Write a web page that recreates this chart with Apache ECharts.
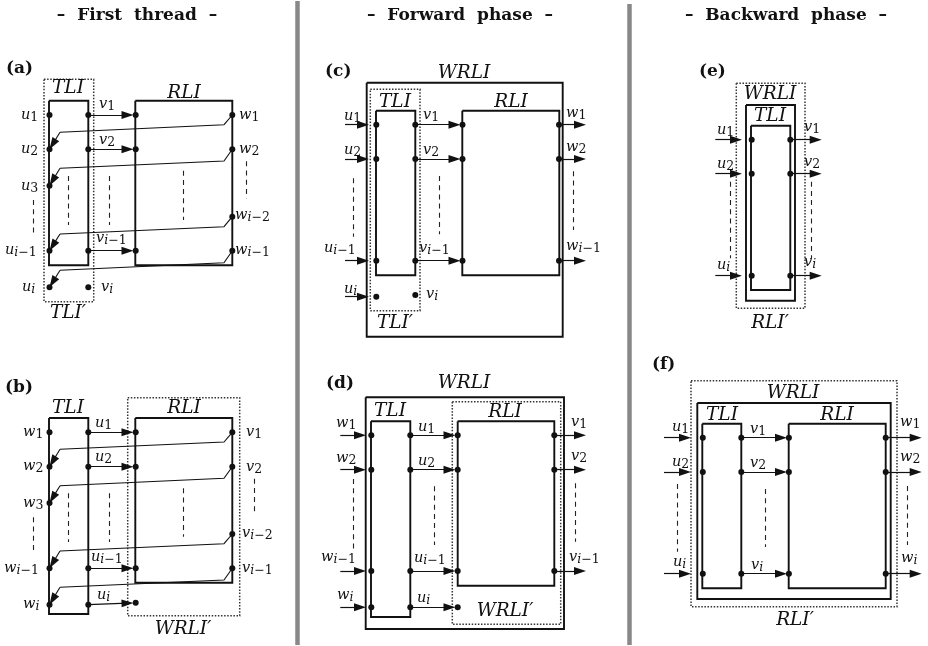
<!DOCTYPE html>
<html><head><meta charset="utf-8">
<style>html,body{margin:0;padding:0;background:#fff}#c{width:928px;height:646px}</style>
<script src="https://cdn.jsdelivr.net/npm/echarts@6/dist/echarts.min.js"></script>
</head><body><div id="c"></div>
<script>
// Diagram units: the axes span 0..928 and 646..0
const INK = '#111';
const titles = [[137,15.5,'–  First  thread  –'],[460,15.5,'–  Forward  phase  –'],[786,15.5,'–  Backward  phase  –']];
const panelTags = [[6,69,'(a)'],[5,388,'(b)'],[325,72,'(c)'],[326,384,'(d)'],[699,72,'(e)'],[652,365,'(f)']];
const dividers = [[297.7,1,645],[629.5,4,645]];
const solidBoxes = [
 [49,100.7,88.3,265.3],[135.3,100.7,232.3,265.3],
 [49,418,88.3,614],[135.3,418,232.3,582.7],
 [366.7,82.7,562.7,336.7],[376,110.7,415.3,275.3],[462.3,110.7,559.3,275.3],
 [365.7,397.3,564,629],[371,421.3,410.3,617],[457.7,421.3,554.3,585.7],
 [746,105,795,300.7],[751,125.7,790.3,290],
 [697.3,403,890.7,599],[702.3,423.7,741.3,588.3],[788.7,423.7,885.7,588.3]];
const dottedBoxes = [
 [44,79.3,93.7,301.7],[127.7,397.7,239.7,615.7],[370.3,89.3,420,310.7],
 [452.3,401.7,560.7,624.3],[736.3,83.3,805,308.3],[691,380.7,897,606.7]];
const dashStrokes = [
 [33.7,200,236.7],[68.7,176,225],[109.7,176,225],[183.7,170.7,220],[246.7,161.3,198.3],
 [33.7,517.3,553.3],[68.7,493.3,542],[109.7,493.3,542],[183.7,488.3,536.7],[254,478.7,515],
 [353.3,178.3,236.7],[439,176,234.3],[573.7,171.3,230],
 [353.3,479,549],[434.3,486.3,545],[575.7,483.3,541.7],
 [730.7,181.7,258.3],[811.7,181.7,258.3],
 [677.3,484,551.7],[765.3,489,547],[907.3,486,545]];
const feedbackWires = [
 [[232.3,115],[224,124.7],[60,132.3],[49.5,149.3]],
 [[232.3,149.3],[224,161],[60,168.3],[49.5,185.7]],
 [[232.3,216.7],[224,226.7],[60,234],[49.5,250.7]],
 [[232.3,250.7],[224,262.7],[60,270.3],[49.5,287.3]],
 [[232.3,432.3],[224,442],[60,449.3],[49.5,466.7]],
 [[232.3,466.7],[224,478.3],[60,485.7],[49.5,503]],
 [[232.3,534],[224,543.7],[60,551],[49.5,568.3]],
 [[232.3,568.3],[224,580],[60,587.3],[49.5,604.7]]];
const arrows = [
 [88.3,115,133.5,115],[88.3,149.3,133.5,149.3],[88.3,250.7,133.5,250.7],
 [88.3,432.3,133.5,432.3],[88.3,466.7,133.5,466.7],[88.3,568.3,133.5,568.3],[88.3,604.7,133.5,602.9],
 [345,124.7,369,124.7],[345,159,369,159],[345,260.7,369,260.7],[345,296.7,369,296.7],
 [415.3,124.7,460.5,124.7],[415.3,159,460.5,159],[415.3,260.7,460.5,260.7],
 [559.3,124.7,586,124.7],[559.3,159,586,159],[559.3,260.7,586,260.7],
 [340.3,435.3,366,435.3],[340.3,469.7,366,469.7],[340.3,571,366,571],[340.3,607.3,366,607.3],
 [410.3,435.3,455.5,435.3],[410.3,469.7,455.5,469.7],[410.3,571,455.5,571],[410.3,607.3,455.5,607.3],
 [554.3,435.3,586,435.3],[554.3,469.7,586,469.7],[554.3,571,586,571],
 [715.3,139.7,742,139.7],[715.3,173.7,742,173.7],[715.3,275.7,742,275.7],
 [790.3,139.7,821.7,139.7],[790.3,173.7,821.7,173.7],[790.3,275.7,821.7,275.7],
 [664,437.7,691,437.7],[664,472,691,472],[664,573.7,691,573.7],
 [741.3,437.7,787,437.7],[741.3,472,787,472],[741.3,573.7,787,573.7],
 [885.7,437.7,921.7,437.7],[885.7,472,921.7,472],[885.7,573.7,921.7,573.7]];
const nodes = [
 [49.5,115],[49.5,149.3],[49.5,185.7],[49.5,250.7],[49.5,287.3],[88.3,115],[88.3,149.3],[88.3,250.7],[88.3,287.3],
 [135.7,115],[135.7,149.3],[135.7,250.7],[232.3,115],[232.3,149.3],[232.3,216.7],[232.3,250.7],
 [49.5,432.3],[49.5,466.7],[49.5,503],[49.5,568.3],[49.5,604.7],[88.3,432.3],[88.3,466.7],[88.3,568.3],[88.3,604.7],
 [135.7,432.3],[135.7,466.7],[135.7,568.3],[135.7,602.7],[232.3,432.3],[232.3,466.7],[232.3,534],[232.3,568.3],
 [376.3,124.7],[376.3,159],[376.3,260.7],[376.3,296.7],[415.3,124.7],[415.3,159],[415.3,260.7],[415.3,295],
 [462.5,124.7],[462.5,159],[462.5,260.7],[559,124.7],[559,159],[559,260.7],
 [371.3,435.3],[371.3,469.7],[371.3,571],[371.3,607.3],[410.3,435.3],[410.3,469.7],[410.3,571],[410.3,607.3],
 [457.7,435.3],[457.7,469.7],[457.7,571],[457.7,607.3],[554.3,435.3],[554.3,469.7],[554.3,571],
 [751.7,139.7],[751.7,173.7],[751.7,275.7],[790.3,139.7],[790.3,173.7],[790.3,275.7],
 [702.8,437.7],[702.8,472],[702.8,573.7],[741.3,437.7],[741.3,472],[741.3,573.7],
 [788.9,437.7],[788.9,472],[788.9,573.7],[885.7,437.7],[885.7,472],[885.7,573.7]];
const blockLabels = [
 [68,88,'TLI'],[184,93,'RLI'],[68,313,"TLI′"],
 [68,408,'TLI'],[184,408,'RLI'],[183,629,"WRLI′"],
 [464,73,'WRLI'],[395,102,'TLI'],[511,102,'RLI'],[395,323,"TLI′"],
 [464,383,'WRLI'],[390,411,'TLI'],[505,412,'RLI'],[505,611,"WRLI′"],
 [770,94,'WRLI'],[770,116,'TLI'],[770,323,"RLI′"],
 [793,393,'WRLI'],[722,415,'TLI'],[837,415,'RLI'],[795,620,"RLI′"]];
const signalLabels = [
 [21,115,'u','1'],[21,149,'u','2'],[21,186,'u','3'],[5,250,'u','i−1'],[22,287,'u','i'],
 [99,104,'v','1'],[99,140,'v','2'],[96,238,'v','i−1'],[101,287,'v','i'],
 [239,115,'w','1'],[239,149,'w','2'],[235,215,'w','i−2'],[235,250,'w','i−1'],
 [23,432,'w','1'],[23,466,'w','2'],[23,503,'w','3'],[4,568,'w','i−1'],[23,604,'w','i'],
 [95,423,'u','1'],[95,457,'u','2'],[91,557,'u','i−1'],[97,595,'u','i'],
 [246,432,'v','1'],[246,467,'v','2'],[242,533,'v','i−2'],[242,568,'v','i−1'],
 [344,116,'u','1'],[344,150,'u','2'],[324,248,'u','i−1'],[344,289,'u','i'],
 [423,115,'v','1'],[423,150,'v','2'],[419,248,'v','i−1'],[426,294,'v','i'],
 [566,113,'w','1'],[566,147,'w','2'],[566,246,'w','i−1'],
 [336,423,'w','1'],[336,458,'w','2'],[321,557,'w','i−1'],[337,595,'w','i'],
 [418,427,'u','1'],[418,461,'u','2'],[414,558,'u','i−1'],[417,598,'u','i'],
 [571,422,'v','1'],[571,456,'v','2'],[569,557,'v','i−1'],
 [717,130,'u','1'],[717,164,'u','2'],[717,265,'u','i'],
 [804,127,'v','1'],[804,162,'v','2'],[804,262,'v','i'],
 [672,427,'u','1'],[672,462,'u','2'],[673,562,'u','i'],
 [750,429,'v','1'],[750,463,'v','2'],[751,565,'v','i'],
 [900,422,'w','1'],[900,457,'w','2'],[901,558,'w','i']];

const HEAD = 12;
function headSegment(from, tip){
  const dx = tip[0]-from[0], dy = tip[1]-from[1], len = Math.hypot(dx,dy);
  const c = [tip[0]-dx/len*HEAD/2, tip[1]-dy/len*HEAD/2];
  return {coords:[from, c]};
}
const boxPath = b => ({coords:[[b[0],b[1]],[b[2],b[1]],[b[2],b[3]],[b[0],b[3]],[b[0],b[1]]]});
const linesBase = {type:'lines',coordinateSystem:'cartesian2d',silent:true,animation:false,zlevel:0};
const labelSeries = (data, label) => ({type:'scatter',symbolSize:0,silent:true,animation:false,
  itemStyle:{opacity:1},
  data, label:Object.assign({show:true,position:'inside',color:INK},label), z:10});

const chart = echarts.init(document.getElementById('c'),null,{renderer:'canvas'});
chart.setOption({
  backgroundColor:'#fff',
  grid:{left:0,right:0,top:0,bottom:0},
  xAxis:{type:'value',min:0,max:928,show:false},
  yAxis:{type:'value',min:0,max:646,inverse:true,show:false},
  series:[
    Object.assign({},linesBase,{data:dividers.map(d=>({coords:[[d[0],d[1]],[d[0],d[2]]]})),lineStyle:{color:'#888',width:4.5,opacity:1}}),
    Object.assign({},linesBase,{polyline:true,data:dottedBoxes.map(boxPath),lineStyle:{color:'#333',width:1.5,type:[1.5,1.6],opacity:1},z:2}),
    Object.assign({},linesBase,{polyline:true,data:solidBoxes.map(boxPath),lineStyle:{color:INK,width:1.9,opacity:1},z:3}),
    Object.assign({},linesBase,{data:dashStrokes.map(d=>({coords:[[d[0],d[1]],[d[0],d[2]]]})),lineStyle:{color:'#222',width:1.1,type:[5,4.2],opacity:1},z:3}),
    Object.assign({},linesBase,{polyline:true,data:feedbackWires.map(w=>({coords:w.slice(0,3)})),lineStyle:{color:INK,width:1.1,opacity:1},z:4}),
    Object.assign({},linesBase,{symbol:['none','triangle'],symbolSize:[[1,1],[8,HEAD]],
      data:feedbackWires.map(w=>headSegment(w[2],w[3])),lineStyle:{color:INK,width:1.1,opacity:1},z:5}),
    Object.assign({},linesBase,{symbol:['none','triangle'],symbolSize:[[1,1],[8,HEAD]],
      data:arrows.map(a=>headSegment([a[0],a[1]],[a[2],a[3]])),lineStyle:{color:INK,width:1.2,opacity:1},z:5}),
    {type:'scatter',symbol:'circle',symbolSize:6,silent:true,animation:false,data:nodes,itemStyle:{color:INK,opacity:1},z:6},
    labelSeries(titles.map(t=>({value:[t[0],t[1]],text:t[2]})),{
      formatter:p=>p.data.text,align:'center',verticalAlign:'middle',fontFamily:'DejaVu Serif',fontWeight:'bold',fontSize:17}),
    labelSeries(panelTags.map(t=>({value:[t[0],t[1]],text:t[2]})),{
      formatter:p=>p.data.text,align:'left',verticalAlign:'middle',fontFamily:'DejaVu Serif',fontWeight:'bold',fontSize:17}),
    labelSeries(blockLabels.map(t=>({value:[t[0],t[1]],text:t[2]})),{
      formatter:p=>p.data.text,align:'center',verticalAlign:'middle',fontFamily:'DejaVu Serif',fontStyle:'italic',fontSize:18.5}),
    labelSeries(signalLabels.map(t=>({value:[t[0],t[1]],base:t[2],sub:t[3]})),{
      formatter:p=>{
        const s=p.data.sub;
        const sub = s==='i'?'{si|i}':/^i/.test(s)?'{si|i}{sn|'+s.slice(1)+'}':'{sn|'+s+'}';
        return '{b|'+p.data.base+'}'+sub;
      },
      align:'left',verticalAlign:'middle',
      rich:{
        b:{fontFamily:'DejaVu Serif',fontStyle:'italic',fontSize:14.5,height:16,lineHeight:16,verticalAlign:'top',color:INK},
        si:{fontFamily:'DejaVu Serif',fontStyle:'italic',fontSize:12.5,height:11,lineHeight:11,verticalAlign:'bottom',color:INK},
        sn:{fontFamily:'DejaVu Serif',fontSize:12.5,height:11,lineHeight:11,verticalAlign:'bottom',color:INK}
      }})
  ]
});
</script></body></html>
